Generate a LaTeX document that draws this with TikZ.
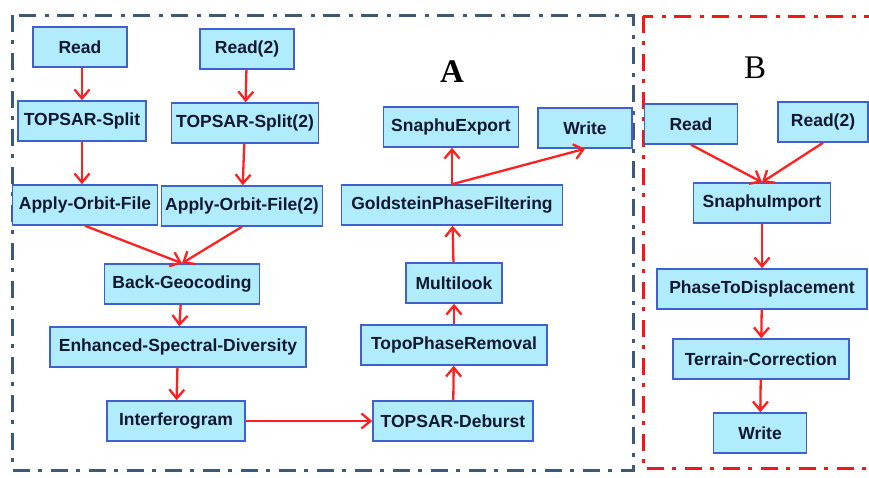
\documentclass[tikz,border=0pt]{standalone}
\usepackage{fontspec}
\setmainfont{Liberation Serif}
\setsansfont{Liberation Sans}
\usetikzlibrary{arrows.meta}
\definecolor{boxfill}{HTML}{B0ECFC}
\definecolor{boxline}{HTML}{4060D0}
\definecolor{boxtext}{HTML}{101830}
\definecolor{frameblue}{HTML}{3C5A78}
\definecolor{framered}{HTML}{F01818}
\definecolor{arrowred}{HTML}{FF2020}
\begin{document}
\begin{tikzpicture}[x=1pt,y=-1pt,
  box/.style={draw=boxline, fill=boxfill, line width=1.5pt, inner sep=0pt,
    minimum height=40pt, text=boxtext, font=\sffamily\bfseries\fontsize{17.5}{19}\selectfont},
  flow/.style={draw=arrowred, line width=2.3pt, -{Straight Barb[length=9pt,width=15pt,line width=2.3pt]}},
  dashdot/.style={line width=3pt, dash pattern=on 17pt off 8pt on 4pt off 9pt}]
\clip (0,0) rectangle (869,477);
\fill[white] (0,0) rectangle (869,477);
% frames
\draw[dashdot, frameblue] (12,15) rectangle (633,470);
\draw[dashdot, framered] (643,16) rectangle (880,468);
\node[font=\bfseries\fontsize{33}{36}\selectfont] (labelA) at (452,72) {A};
\node[font=\fontsize{33}{36}\selectfont] (labelB) at (755,68) {B};
% chain A
\node[box, minimum width=94pt] (read1) at (80,47) {Read};
\node[box, minimum width=94pt] (read2) at (247,49) {Read(2)};
\node[box, minimum width=128pt] (split1) at (82,121) {TOPSAR-Split};
\node[box, minimum width=147pt] (split2) at (245,123) {TOPSAR-Split(2)};
\node[box, minimum width=145pt] (orbit1) at (85,205) {Apply-Orbit-File};
\node[box, minimum width=161pt] (orbit2) at (242,206) {Apply-Orbit-File(2)};
\node[box, minimum width=155pt] (geocode) at (182,284) {Back-Geocoding};
\node[box, minimum width=256pt] (esd) at (178,347) {Enhanced-Spectral-Diversity};
\node[box, minimum width=138pt] (ifg) at (176,421) {Interferogram};
\node[box, minimum width=160pt] (deburst) at (453,421) {TOPSAR-Deburst};
\node[box, minimum width=186pt] (topo) at (454,345) {TopoPhaseRemoval};
\node[box, minimum width=96pt] (multilook) at (454,283) {Multilook};
\node[box, minimum width=221pt] (goldstein) at (452,205) {GoldsteinPhaseFiltering};
\node[box, minimum width=135pt] (export) at (451,127) {SnaphuExport};
\node[box, minimum width=94pt] (writeA) at (585,128) {Write};
% chain B
\node[box, minimum width=93pt] (readB) at (691,124) {Read};
\node[box, minimum width=90pt] (read2B) at (823,122) {Read(2)};
\node[box, minimum width=137pt] (snimport) at (762,203) {SnaphuImport};
\node[box, minimum width=210pt] (p2d) at (762,289) {PhaseToDisplacement};
\node[box, minimum width=176pt] (terrain) at (761,359) {Terrain-Correction};
\node[box, minimum width=93pt] (writeB) at (760,433) {Write};
% arrows
\draw[flow] (split1.north |- read1.south) -- (split1.north);
\draw[flow] (split1) -- (orbit1.north -| split1.south);
\draw[flow] (read2) -- (split2);
\draw[flow] (split2) -- (orbit2);
\draw[flow] (orbit1.south) -- (geocode.north);
\draw[flow] (orbit2.south) -- (geocode.north);
\draw[flow] (geocode) -- (esd);
\draw[flow] (esd) -- (ifg);
\draw[flow] (ifg) -- (deburst);
\draw[flow] (deburst) -- (topo);
\draw[flow] (topo) -- (multilook);
\draw[flow] (multilook) -- (goldstein);
\draw[flow] (goldstein.north) -- (export.south -| goldstein.north);
\draw[flow] (goldstein.north) -- (writeA.south);
\draw[flow] (readB.south) -- (snimport.north);
\draw[flow] (read2B.south) -- (snimport.north);
\draw[flow] (snimport) -- (p2d);
\draw[flow] (p2d) -- (terrain);
\draw[flow] (terrain) -- (writeB);
\end{tikzpicture}
\end{document}
